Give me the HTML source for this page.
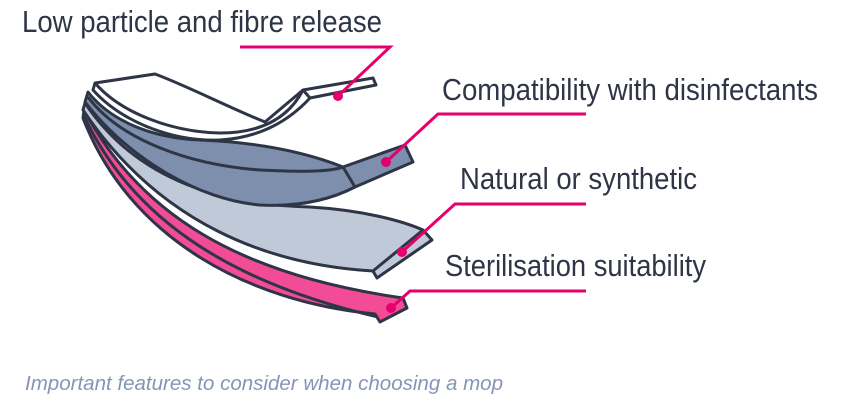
<!DOCTYPE html>
<html><head><meta charset="utf-8"><style>
html,body{margin:0;padding:0;background:#fff;width:858px;height:411px;overflow:hidden}
</style></head><body>
<svg width="858" height="411" viewBox="0 0 858 411" xmlns="http://www.w3.org/2000/svg">
<g stroke="#2e3547" stroke-width="3" stroke-linejoin="round" fill="none">
<!-- pink -->
<path d="M84,110 C140,215 240,275 403,298 L407,308 L380,322 L375,314 C250,302 130,240 83,118 Z" fill="#f24c96"/>
<path d="M84,116 C135,225 240,285 378,317"/>
<!-- light gray -->
<path d="M85,103 C140,185 230,205 310,207 C360,210 400,220 423,230 L432,240 L377,278 L373,271 C270,265 160,225 83,110 Z" fill="#c0c9d8"/>
<path d="M373,271 L423,230"/>
<!-- blue -->
<path d="M88,92 C110,120 150,138 200,140 C250,142 300,150 343,167 L405,145 L413,162 L355,187 C330,200 300,207 260,205 C200,200 130,160 85,102 Z" fill="#7d8fad"/>
<path d="M343,167 L355,187 M88,97 C120,140 190,165 260,170 C300,172 330,172 343,167"/>
<!-- white -->
<path d="M95,83 L155,74 C185,85 230,108 265,122 L303,90 L373,78 L376,85 L310,98 C285,125 255,138 220,140 C170,142 120,120 93,90 Z" fill="#fff"/>
<path d="M303,90 L310,98 M95,83 C120,112 170,132 220,133 C265,133 290,115 303,90"/>
</g>
<g stroke="#e5006e" stroke-width="3" fill="none">
<polyline points="240,47 390,47 338,96"/>
<polyline points="586,114 438,114 386,162"/>
<polyline points="586,204 455,204 402,252"/>
<polyline points="586,291 410,291 391,308"/>
</g>
<g fill="#e5006e"><circle cx="338" cy="96" r="5"/><circle cx="386" cy="162" r="5"/><circle cx="402" cy="252" r="5"/><circle cx="391" cy="308" r="5"/></g>
<g font-family="Liberation Sans, sans-serif" font-size="31" fill="#2e3547">
<text x="22" y="32" textLength="360" lengthAdjust="spacingAndGlyphs">Low particle and fibre release</text>
<text x="442" y="100" textLength="376" lengthAdjust="spacingAndGlyphs">Compatibility with disinfectants</text>
<text x="460" y="189" textLength="237" lengthAdjust="spacingAndGlyphs">Natural or synthetic</text>
<text x="445" y="276" textLength="261" lengthAdjust="spacingAndGlyphs">Sterilisation suitability</text>
</g>
<text x="25" y="390" font-family="Liberation Sans, sans-serif" font-style="italic" font-size="20" fill="#8595b5" textLength="478" lengthAdjust="spacingAndGlyphs">Important features to consider when choosing a mop</text>
</svg>
</body></html>
